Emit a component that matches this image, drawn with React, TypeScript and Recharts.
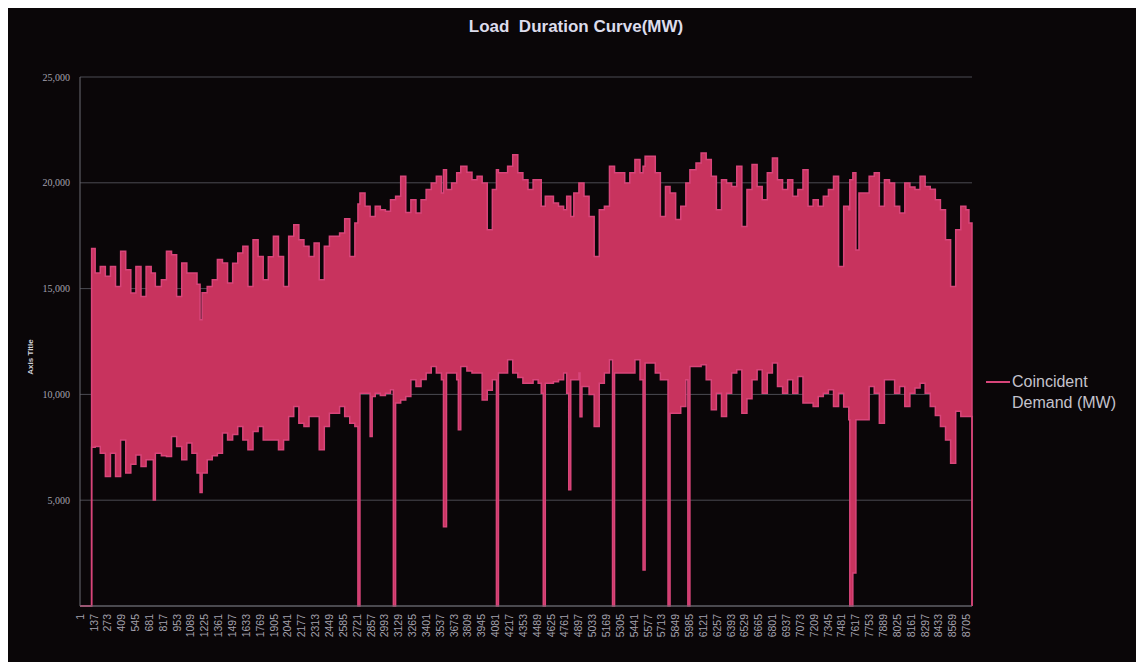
import { AreaChart, Area, XAxis, YAxis, CartesianGrid, Legend } from "recharts";

// hour of year at which each reading starts (step chart, so a value holds until the next hour)
const HOURS = [
  1, 115, 150, 200, 250, 300, 350, 400, 450, 500, 550, 600, 650, 700, 721, 741, 800, 850, 900, 950,
  1000, 1050, 1100, 1150, 1180, 1200, 1250, 1300, 1350, 1400, 1450, 1500, 1550, 1600, 1650, 1700,
  1750, 1800, 1850, 1900, 1950, 2000, 2050, 2100, 2150, 2200, 2250, 2300, 2350, 2400, 2450, 2500,
  2550, 2600, 2650, 2700, 2730, 2750, 2800, 2850, 2870, 2900, 2950, 3000, 3050, 3078, 3100, 3150,
  3200, 3250, 3300, 3350, 3400, 3450, 3500, 3550, 3570, 3600, 3650, 3700, 3716, 3740, 3800, 3850,
  3900, 3950, 4000, 4050, 4090, 4110, 4150, 4200, 4250, 4300, 4350, 4400, 4450, 4500, 4530, 4550,
  4570, 4600, 4650, 4700, 4750, 4780, 4800, 4820, 4850, 4900, 4911, 4930, 4950, 5000, 5050, 5100,
  5150, 5200, 5230, 5250, 5300, 5350, 5400, 5450, 5500, 5530, 5550, 5600, 5650, 5700, 5750, 5775,
  5795, 5850, 5900, 5950, 5970, 5990, 6050, 6100, 6150, 6200, 6250, 6300, 6350, 6400, 6450, 6500,
  6550, 6600, 6650, 6700, 6750, 6800, 6850, 6900, 6950, 7000, 7050, 7100, 7150, 7200, 7250, 7300,
  7350, 7400, 7450, 7500, 7550, 7560, 7590, 7620, 7650, 7700, 7750, 7800, 7850, 7900, 7950, 8000,
  8050, 8100, 8150, 8200, 8250, 8300, 8350, 8400, 8450, 8500, 8550, 8600, 8650, 8700, 8730, 8760,
];

// lowest demand seen in that stretch (MW)
const LOW_MW = [
  0, 7500, 7540, 7220, 6120, 7220, 6120, 7850, 6280, 6700, 7140, 6590, 6910, 6910, 5010, 7220, 7100, 7060, 8010, 7540,
  6910, 7700, 7220, 6280, 5360, 6280, 6910, 7100, 7220, 8170, 7850, 8100, 8480, 7850, 7380, 8250,
  8480, 7850, 7850, 7850, 7380, 7850, 8950, 9430, 8640, 8480, 8950, 8950, 7380, 8480, 9110, 9110,
  9430, 8950, 8640, 8480, 0, 10060, 10060, 8010, 9900, 10060, 9950, 10060, 10220, 0, 9590, 9740,
  9900, 10690, 10370, 10700, 11010, 11320, 11010, 10690, 3740, 11010, 11010, 10690, 8330, 11320, 11100, 11010,
  11010, 9740, 10200, 10690, 0, 11010, 11010, 11640, 11010, 10800, 10530, 10530, 10690, 10530, 10060, 0,
  10530, 10530, 10600, 10690, 11010, 10060, 5490, 10690, 10690, 11010, 8940, 10370, 10370, 10000, 8480, 10530,
  11010, 11640, 0, 11010, 11010, 11010, 11010, 11640, 10690, 1700, 11480, 11480, 11010, 10690, 10690, 0,
  9110, 9110, 9430, 10690, 0, 11320, 11320, 11400, 10690, 9270, 10060, 8950, 10060, 11010, 11160, 9110,
  9800, 10690, 11160, 10060, 11010, 11480, 10370, 10060, 10690, 10060, 10850, 9590, 9590, 9430, 9900, 10060,
  10220, 9430, 10060, 9400, 8800, 0, 1560, 8800, 8800, 8800, 10370, 10060, 8640, 10690, 10690, 10060,
  10370, 9430, 10060, 10300, 10530, 10060, 9430, 9000, 8480, 7850, 6750, 9200, 8950, 8950, 8950, 0,
];

// highest demand seen in that stretch (MW)
const PEAK_MW = [
  0, 16900, 15740, 16050, 15580, 16050, 15100, 16760, 15890, 14790, 16050, 14630, 16050, 15740, 15740, 15100, 15420, 16760, 16600, 14630,
  16210, 15740, 15740, 15200, 13530, 14800, 15100, 15420, 16370, 16210, 15260, 16200, 16680, 17000, 15100, 17310,
  16520, 15420, 16500, 17470, 16520, 15100, 17470, 18020, 17310, 17000, 16520, 17160, 15420, 17000, 17470, 17470,
  17630, 18300, 16520, 18100, 19000, 19520, 18890, 18410, 18410, 18890, 18730, 18650, 19200, 19200, 19360, 20310,
  18600, 19200, 18570, 19200, 19680, 19990, 20310, 19520, 20620, 19680, 19990, 20470, 20470, 20780, 20500, 20150,
  20310, 19990, 17780, 19680, 20620, 20470, 20470, 20780, 21330, 20470, 20150, 19680, 20150, 20150, 18890, 18890,
  19360, 19360, 19050, 18890, 18730, 19360, 19360, 18410, 19520, 19990, 19990, 19990, 19360, 18410, 16520, 18730,
  18890, 20780, 20780, 20470, 20470, 19990, 20470, 21100, 20470, 20780, 21250, 21250, 20470, 18410, 19830, 19830,
  19520, 18260, 18890, 19990, 19990, 20620, 20940, 21410, 21100, 20310, 18730, 20150, 19990, 19830, 20780, 17940,
  19680, 20860, 19830, 19200, 20470, 21170, 20150, 19680, 20150, 19360, 19680, 20620, 18890, 19200, 18890, 19360,
  19680, 20310, 16050, 18890, 18730, 20150, 20470, 16830, 19520, 19520, 20310, 20470, 18890, 20150, 19990, 18890,
  18570, 19990, 19800, 19680, 20310, 19830, 19700, 19200, 18730, 17310, 15100, 17780, 18890, 18730, 18100, 0,
];

const HOUR_TICKS = [
  1, 137, 273, 409, 545, 681, 817, 953, 1089, 1225, 1361, 1497, 1633, 1769, 1905, 2041, 2177,
  2313, 2449, 2585, 2721, 2857, 2993, 3129, 3265, 3401, 3537, 3673, 3809, 3945, 4081, 4217, 4353,
  4489, 4625, 4761, 4897, 5033, 5169, 5305, 5441, 5577, 5713, 5849, 5985, 6121, 6257, 6393, 6529,
  6665, 6801, 6937, 7073, 7209, 7345, 7481, 7617, 7753, 7889, 8025, 8161, 8297, 8433, 8569, 8705,
];

const MW_TICKS = [0, 5000, 10000, 15000, 20000, 25000];

const SERIES_NAME = "Coincident Demand (MW)";

const data = HOURS.map((hour, i) => ({
  hour,
  demand: [LOW_MW[i], PEAK_MW[i]],
}));

const PINK = "#c8335e";
const PINK_LINE = "#d8457a";
const AXIS_TEXT = "#a4a2ae";

const HourTick = ({ x, y, payload }: any) => (
  <text
    x={x}
    y={y}
    transform={`rotate(-90, ${x}, ${y})`}
    textAnchor="end"
    dy="0.35em"
    fill={AXIS_TEXT}
    fontSize={10.5}
    fontFamily="Liberation Sans, Arial, sans-serif"
  >
    {payload.value}
  </text>
);

const LegendBox = () => (
  <div style={{ display: "flex", alignItems: "flex-start", fontFamily: "Liberation Sans, Arial, sans-serif" }}>
    <span style={{ width: 24, height: 2, background: PINK_LINE, marginTop: 10, marginRight: 2 }} />
    <span style={{ color: "#c4c2cc", fontSize: 16, lineHeight: "21px" }}>
      Coincident
      <br />
      Demand (MW)
    </span>
  </div>
);

export default function App() {
  return (
    <div style={{ position: "relative", width: 1136, height: 654, background: "#0a0608" }}>
      <div
        style={{
          position: "absolute",
          top: 9,
          left: 0,
          width: "100%",
          textAlign: "center",
          color: "#dcdcec",
          fontFamily: "Liberation Sans, Arial, sans-serif",
          fontWeight: "bold",
          fontSize: 17,
        }}
      >
        Load&nbsp;&nbsp;Duration Curve(MW)
      </div>
      {/* the legend box (160px) is added to the right offset, so the margin only covers the rest */}
      <AreaChart width={1136} height={654} data={data} margin={{ top: 69, right: 12, bottom: 6, left: 22 }}>
        <CartesianGrid vertical={false} stroke="#4a4a52" />
        <XAxis
          dataKey="hour"
          type="number"
          domain={[1, 8760]}
          ticks={HOUR_TICKS}
          interval={0}
          height={50}
          tick={<HourTick />}
          tickLine={false}
          axisLine={{ stroke: "#6a6a72" }}
        />
        <YAxis
          domain={[0, 25000]}
          ticks={MW_TICKS}
          width={50}
          tickLine={false}
          tickMargin={4}
          axisLine={{ stroke: "#6a6a72" }}
          tick={{ fill: AXIS_TEXT, fontSize: 10, fontFamily: "Liberation Serif, serif" }}
          tickFormatter={(v: number) => (v === 0 ? "" : v.toLocaleString("en-US"))}
          label={{
            content: () => (
              <text
                x={25}
                y={349}
                transform="rotate(-90, 25, 349)"
                textAnchor="middle"
                fill="#d0d0d8"
                fontSize={8}
                fontWeight="bold"
                fontFamily="Liberation Sans, Arial, sans-serif"
              >
                Axis Title
              </text>
            ),
          }}
        />
        <Legend
          layout="horizontal"
          verticalAlign="middle"
          align="right"
          content={() => <LegendBox />}
          wrapperStyle={{ left: 978, top: 363, width: 160 }}
        />
        <Area
          type="stepAfter"
          dataKey="demand"
          name={SERIES_NAME}
          fill={PINK}
          fillOpacity={1}
          stroke={PINK_LINE}
          strokeWidth={1.5}
          isAnimationActive={false}
        />
      </AreaChart>
    </div>
  );
}
